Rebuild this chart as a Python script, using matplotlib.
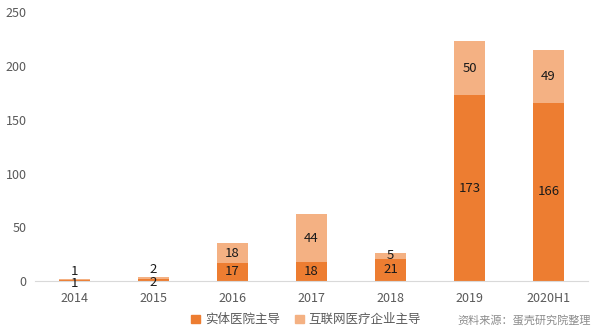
import matplotlib.pyplot as plt
from matplotlib.patches import Patch

plt.rcParams['font.family'] = ['Noto Sans CJK SC', 'DejaVu Sans']

years = ['2014', '2015', '2016', '2017', '2018', '2019', '2020H1']
hospital = [1, 2, 17, 18, 21, 173, 166]
internet = [1, 2, 18, 44, 5, 50, 49]

dark = '#ED7D31'
light = '#F4B183'
grey = '#595959'

fig = plt.figure(figsize=(6, 3.28), dpi=100)
ax = fig.add_axes([0.058, 0.143, 0.922, 0.82])

x = range(len(years))
ax.bar(x, hospital, width=0.4, color=dark, label='实体医院主导')
ax.bar(x, internet, width=0.4, bottom=hospital, color=light, label='互联网医疗企业主导')

for i in x:
    # tiny bars: nudge the two labels apart a little
    small = hospital[i] + internet[i] < 8
    dy_low = -2 if small else 0
    dy_up = 6 if small else 0
    ax.annotate(str(hospital[i]), (i, hospital[i] / 2), xytext=(0, dy_low), textcoords='offset points',
                ha='center', va='center', fontsize=9.5, color='#1a1a1a')
    ax.annotate(str(internet[i]), (i, hospital[i] + internet[i] / 2), xytext=(0, dy_up),
                textcoords='offset points', ha='center', va='center', fontsize=9.5, color='#1a1a1a')

ax.set_xlim(-0.5, len(years) - 0.5)
ax.set_ylim(0, 250)
ax.set_yticks([0, 50, 100, 150, 200, 250])
ax.set_xticks(list(x))
ax.set_xticklabels(years)
ax.tick_params(axis='both', length=0, labelsize=9, colors=grey)
ax.tick_params(axis='x', pad=8)
ax.tick_params(axis='y', pad=6)
for s in ['top', 'right', 'left']:
    ax.spines[s].set_visible(False)
ax.spines['bottom'].set_color('#D9D9D9')

handles = [Patch(color=dark, label='实体医院主导'), Patch(color=light, label='互联网医疗企业主导')]
fig.legend(handles=handles, loc='center', bbox_to_anchor=(0.51, 0.025), ncol=2, frameon=False,
           fontsize=9, handlelength=0.7, handleheight=0.7, handletextpad=0.4, columnspacing=1.2,
           labelcolor=grey)
fig.text(0.985, 0.025, '资料来源：蛋壳研究院整理', ha='right', va='center', fontsize=8,
         color='#8c8c8c', style='italic')

fig.savefig('out.png', dpi=100)
